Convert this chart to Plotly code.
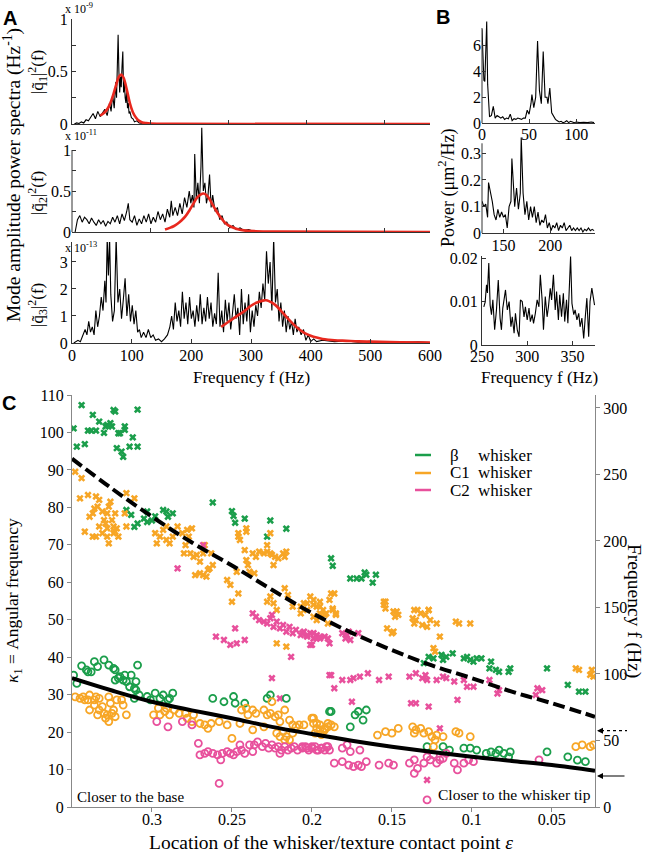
import plotly.graph_objects as go

W, H = 646, 852
SERIF = "Liberation Serif"
SANS = "Liberation Sans"
GREEN = "#1b9e4b"
ORANGE = "#f7a626"
PINK = "#e8509c"
RED = "#e8281e"

# ---------------- Panel A data (mode amplitude spectra) ----------------
a1_f = [3,6,9,12,15,18,21,24,27,30,33,36,39,42,45,48,50,52,54,56,57,58,59,60,61,62,63,64,65,66,
        67,68,69,70,71,72,73,74,76,78,80,83,86,90,95,100,458]
a1_v = [0,0.01,0.005,0.02,0.01,0.04,0.03,0.06,0.1,0.05,0.12,0.07,0.1,0.14,0.08,0.2,0.12,0.28,0.15,0.4,
        0.25,0.6,0.85,0.5,0.3,0.45,0.35,0.55,0.69,0.3,0.4,0.25,0.2,0.33,0.15,0.2,0.1,0.12,0.06,0.05,
        0.02,0.03,0.01,0.005,0,0,0]
a1_fit_f = [36,40,44,48,52,56,60,63,66,70,74,78,82,86,90,95,100,110,130,458]
a1_fit_v = [0.08,0.1,0.13,0.18,0.26,0.36,0.45,0.47,0.44,0.33,0.2,0.11,0.06,0.03,0.015,0.008,0.004,0.002,0.001,0]

a2_f = [4,7,10,13,16,19,22,25,28,31,34,37,40,43,46,49,52,55,58,61,64,67,70,72,74,77,80,83,86,89,
        92,95,98,101,104,107,110,113,116,119,122,125,127,129,132,135,138,141,144,147,150,152,154,156,157,159,161,163,165,166,
        168,170,172,174,176,178,180,183,186,189,192,195,198,202,206,210,215,220,226,232,240,458]
a2_v = [0.0,0.15,0.2,0.12,0.18,0.15,0.1,0.17,0.12,0.08,0.15,0.1,0.14,0.07,0.13,0.1,0.18,0.12,0.2,0.1,
        0.22,0.14,0.25,0.35,0.15,0.12,0.2,0.08,0.16,0.1,0.2,0.12,0.22,0.1,0.18,0.12,0.25,0.15,0.22,0.12,
        0.28,0.18,0.38,0.2,0.3,0.2,0.35,0.22,0.42,0.3,0.5,0.35,0.45,0.3,0.95,0.4,0.6,0.35,0.8,1.27,
        0.5,0.6,0.35,0.45,0.7,0.3,0.45,0.25,0.3,0.15,0.2,0.1,0.12,0.05,0.08,0.03,0.05,0.02,0.03,0.01,0,0]
a2_fit_f = [119,125,130,135,140,145,150,155,160,165,168,172,176,180,185,190,195,200,210,220,235,260,458]
a2_fit_v = [0.03,0.05,0.07,0.1,0.14,0.19,0.26,0.34,0.42,0.46,0.47,0.45,0.4,0.33,0.25,0.18,0.12,0.08,0.04,0.02,0.01,0.005,0]

a3_f = [3,6,10,14,18,22,25,28,31,34,37,40,43,46,49,52,55,57,59,61,63,65,68,71,74,77,80,83,86,89,
        92,95,98,101,104,107,110,113,116,120,124,128,132,136,140,145,150,155,160,164,167,170,173,176,179,182,185,188,191,194,
        197,200,203,206,209,212,215,218,221,224,227,230,233,236,239,242,245,248,251,254,257,260,263,266,269,272,275,278,281,284,
        287,290,293,296,299,302,305,308,311,314,317,320,323,326,329,332,335,338,341,344,347,350,353,356,359,362,365,368,371,374,
        377,380,384,388,392,396,400,405,410,420,440,460,480,500,520,540,560,580,600]
a3_v = [0,0.05,0.1,0.05,0.3,0.5,0.3,0.8,0.4,0.6,0.3,1.2,0.6,1.0,1.7,1.2,2.3,1.5,3.9,2.5,
        3.9,1.8,0.8,1.2,3.9,1.5,2.0,0.9,1.6,2.4,1.0,1.8,0.8,1.4,0.7,1.2,0.4,0.5,0.2,0.4,
        0.2,0.5,0.2,0.3,0.1,0.15,0.05,0.15,0.3,0.6,1.0,0.5,1.5,0.8,1.2,0.6,1.9,0.9,1.5,0.7,
        1.7,0.9,1.2,0.6,1.4,0.8,1.8,0.7,1.3,0.8,1.7,0.9,1.5,0.6,1.1,0.7,2.6,0.6,1.2,0.4,
        1.6,0.8,1.5,0.5,1.1,1.8,0.9,1.3,0.3,2.0,0.7,1.5,0.8,1.8,0.4,1.2,0.6,1.4,1.0,1.9,
        1.3,2.2,1.6,3.4,2.2,3.0,1.2,3.9,1.5,2.0,0.8,1.5,0.6,1.2,0.4,1.0,0.5,0.8,0.3,0.9,
        0.4,0.6,0.3,0.5,0.1,0.3,0.05,0.15,0.05,0.1,0.05,0.08,0.03,0.06,0.02,0.05,0.03,0.04,0.02]
a3_fit_f = [250,260,270,280,290,300,310,320,325,330,340,350,360,370,380,390,400,410,420,430,440,460,480,500,550,600]
a3_fit_v = [0.6,0.75,0.9,1.05,1.2,1.38,1.5,1.57,1.58,1.55,1.42,1.2,0.95,0.72,0.52,0.37,0.27,0.2,0.15,0.12,0.1,0.08,0.06,0.05,0.03,0.02]

# ---------------- Panel B data (power spectra) ----------------
b1_f = [0,1,2,3,4,5,6,7,8,10,12,14,16,18,20,22,24,26,28,30,32,34,36,38,40,42,44,46,48,50,
        52,53,55,57,59,61,63,65,67,69,70,72,74,76,78,80,82,84,86,88,90,92,94,96,98,100,104,108,112,116,119]
b1_v = [7.2,5.0,3.3,3.2,5.5,7.8,3.0,1.5,0.5,0.6,1.3,0.4,0.6,0.5,0.4,0.5,0.3,0.4,0.35,0.7,
        0.2,0.35,0.3,0.4,0.35,0.3,0.4,0.4,1.0,0.7,1.5,2.2,1.2,2.0,6.3,2.5,1.5,5.5,2.0,2.0,
        1.5,2.7,0.8,0.5,0.3,0.2,0.1,0.15,0.05,0.1,0.2,0.05,0.15,0.1,0.05,0.1,0.05,0.08,0.05,0.1,0.05]
b2_f = [127,129,131,133,134,136,138,140,142,144,146,148,150,152,154,156,158,159,161,162,
        164,166,168,169,171,173,175,177,179,181,183,185,187,189,191,193,195,197,199,201,
        203,205,207,209,211,213,215,217,219,221,223,225,227,229,231,233,235,237,239,241,243,245,247]
b2_v = [0.12,0.1,0.11,0.06,0.19,0.16,0.12,0.07,0.05,0.09,0.06,0.08,0.06,0.07,0.02,0.1,0.12,0.28,0.12,0.1,
        0.17,0.09,0.15,0.36,0.15,0.07,0.12,0.05,0.1,0.06,0.1,0.04,0.08,0.03,0.05,0.04,0.07,0.02,0.04,0.01,
        0.03,0.02,0.04,0.01,0.03,0.02,0.04,0.01,0.02,0.03,0.01,0.02,0.01,0.02,0.01,0.02,0.005,0.015,0.01,0.02,
        0.01,0.015,0.01]
# values in units of 0.001 um^2/Hz
b3_f = [252,253.5,255,256,257.5,259,260.5,262,264,266,268,270,271.5,273,276,278,280,282,283.5,285.5,
        287,289,291,292.5,294.5,296.5,298,300,302,303.5,305.5,307,309,311,313,314.5,316.5,318,320,322,
        323.5,325.5,327,329,331,332.5,334.5,336,338,340,341.5,343.5,345,348,349.5,351.5,353,355,357,358.5,
        360.5,362.5,364,366,368,369.5,371.5,373,374.5]
b3_v = [8.8,9.9,13.9,12.0,18.9,9.2,7.0,10.4,3.5,8.1,15.0,6.2,3.5,8.5,12.7,8.1,10.0,4.2,6.5,2.7,
        7.3,3.5,1.9,10.4,10.0,6.5,8.8,5.8,8.5,5.4,7.0,5.0,7.3,10.4,8.8,16.2,10.4,3.5,11.2,6.5,
        8.8,13.1,10.4,16.2,8.1,12.3,5.8,11.6,6.5,11.9,5.4,10.4,5.0,20.4,9.6,7.0,8.1,5.8,7.3,4.2,
        6.2,1.5,5.8,10.8,1.9,10.0,13.1,11.2,9.2]

# ---------------- Panel C data ----------------
gx_e = [0.349,0.344,0.347,0.342,0.340,0.337,0.338,0.335,0.333,0.330,0.329,0.328,0.326,0.325,0.324,0.323,0.322,0.321,0.319,0.318,
        0.317,0.317,0.320,0.312,0.314,0.309,0.309,0.316,0.313,0.311,0.309,0.303,0.303,0.305,0.300,0.298,0.293,0.291,0.290,0.287,
        0.262,0.250,0.249,0.248,0.242,0.228,0.226,0.216,0.188,0.187,0.176,0.172,0.169,0.167,0.166,0.162,0.160,0.130,0.127,0.124,
        0.119,0.118,0.116,0.112,0.105,0.103,0.101,0.099,0.097,0.094,0.088,0.089,0.085,0.083,0.076,0.077,0.053,0.040,0.033,0.029]
gx_k = [101.1,107.3,96.2,96.9,100.5,104.7,100.5,100.5,102.9,99.9,101.6,102.0,102.5,101.6,106.0,105.6,95.8,99.8,94.9,93.5,
        101.6,100.7,99.8,98.7,96.2,96.2,106.1,79.3,78.0,74.8,75.7,76.1,78.9,77.0,76.5,77.6,79.3,78.9,77.5,78.4,
        81.3,79.0,77.7,75.9,77.0,72.2,76.5,74.3,66.4,64.4,61.0,61.0,61.0,62.6,62.0,59.9,62.0,38.4,40.1,39.7,
        40.6,39.3,40.1,41.0,39.7,40.1,39.3,38.8,39.7,39.7,38.8,37.0,36.6,36.1,37.0,36.1,37.0,32.6,30.8,30.8]
go_e = [0.349,0.347,0.344,0.341,0.340,0.338,0.336,0.334,0.330,0.327,0.324,0.323,0.321,0.323,0.320,0.318,0.317,0.316,0.314,0.313,
        0.311,0.310,0.309,0.310,0.311,0.308,0.303,0.301,0.298,0.295,0.293,0.290,0.289,0.287,0.262,0.255,0.249,0.248,0.242,0.228,
        0.226,0.216,0.189,0.188,0.173,0.171,0.166,0.168,0.176,0.128,0.118,0.114,0.105,0.101,0.097,0.091,0.088,0.085,0.083,0.080,
        0.076,0.077,0.053,0.040,0.034,0.029]
go_k = [35.2,33.0,37.7,36.6,36.1,36.1,38.8,37.5,39.3,37.9,37.0,36.6,34.4,33.9,34.8,33.9,35.2,33.5,32.1,35.2,
        31.7,33.5,37.9,31.2,29.0,29.9,29.5,28.6,30.4,29.0,29.9,28.6,29.0,30.4,29.0,28.1,29.5,27.7,27.7,29.0,
        29.9,29.0,25.5,25.5,24.6,25.5,25.9,23.2,21.4,16.1,16.1,15.2,15.7,15.7,15.2,14.3,14.7,14.3,15.2,14.3,
        14.7,13.4,14.7,13.4,12.5,12.1]

ox_e = [0.348,0.344,0.345,0.340,0.342,0.339,0.336,0.337,0.335,0.333,0.334,0.331,0.330,0.333,0.335,0.337,0.331,0.329,0.328,0.327,
        0.326,0.325,0.324,0.323,0.328,0.327,0.324,0.322,0.321,0.323,0.328,0.316,0.317,0.316,0.311,0.298,0.295,0.293,0.291,0.289,
        0.287,0.297,0.291,0.284,0.281,0.278,0.275,0.277,0.279,0.280,0.276,0.274,0.272,0.270,0.268,0.267,0.273,0.270,0.268,0.266,
        0.265,0.264,0.263,0.262,0.253,0.251,0.250,0.246,0.247,0.246,0.246,0.245,0.241,0.241,0.242,0.241,0.240,0.239,0.236,0.237,
        0.235,0.233,0.230,0.228,0.228,0.226,0.225,0.226,0.224,0.223,0.221,0.218,0.217,0.216,0.217,0.215,0.224,0.222,0.228,0.226,
        0.222,0.216,0.212,0.207,0.203,0.199,0.197,0.195,0.192,0.190,
        0.205,0.201,0.199,0.197,0.195,0.193,0.189,0.188,0.186,0.187,0.185,0.155,0.154,0.147,0.148,0.136,0.134,0.127,
        0.207,0.203,0.199,0.195,0.191,0.187,0.185,0.155,0.154,0.149,0.146,0.153,0.150,0.149,0.137,0.135,0.136,0.132,0.129,0.131,
        0.127,0.126,0.128,0.122,0.120,0.124,0.123,0.110,0.108,0.101,0.035,0.033,0.025,0.024,0.026]
ox_k = [89.5,87.8,82.4,83.3,73.5,77.5,79.7,78.4,82.9,82.0,80.2,78.9,76.6,74.9,72.2,72.2,73.1,75.7,78.4,80.2,
        81.5,76.6,74.9,78.4,72.2,70.4,73.1,74.4,72.2,73.5,74.4,83.8,78.4,74.9,82.4,73.1,72.2,74.0,71.3,70.4,
        72.2,70.4,74.9,74.9,73.1,74.0,74.4,72.2,69.9,67.7,67.7,66.8,67.3,65.5,67.7,69.9,61.9,62.4,61.9,61.5,
        63.3,63.7,67.7,64.6,60.6,59.3,54.8,57.0,62.8,73.1,72.2,71.3,74.4,73.5,68.6,65.9,64.6,62.8,62.4,67.7,
        66.8,68.2,67.7,69.9,68.2,67.7,67.3,73.1,64.6,66.8,66.4,67.7,66.8,68.2,58.4,56.6,54.4,52.6,54.8,56.2,
        43.7,42.8,53.5,51.7,52.6,50.8,49.9,53.5,51.3,49.0,
        54.4,56.2,55.3,53.5,51.7,52.6,55.3,57.0,57.0,52.6,51.7,54.8,53.0,52.2,50.8,52.6,52.6,52.6,
        53.5,54.4,54.0,54.8,51.7,53.0,51.3,54.0,54.8,52.2,51.3,47.7,46.4,46.8,50.4,49.9,49.0,51.7,51.3,48.6,
        52.6,49.9,48.1,49.0,45.5,42.4,41.5,49.5,49.0,49.0,37.0,36.6,36.6,34.8,35.3]
oo_e = [0.348,0.345,0.343,0.342,0.340,0.339,0.336,0.339,0.336,0.335,0.333,0.331,0.330,0.329,0.327,0.328,0.325,0.324,0.323,0.326,
        0.327,0.333,0.334,0.316,0.318,0.322,0.319,0.299,0.296,0.295,0.292,0.291,0.289,0.286,0.283,0.279,0.278,0.275,0.274,0.270,
        0.267,0.265,0.263,0.258,0.253,0.250,0.245,0.244,0.241,0.240,0.237,0.235,0.230,0.228,0.226,0.225,0.223,0.221,0.220,0.217,
        0.214,0.212,0.210,0.208,0.222,0.220,0.218,0.216,0.214,0.217,0.212,0.237,0.230,0.200,0.199,0.197,0.195,0.192,0.190,0.198,
        0.194,0.205,0.199,0.197,0.195,0.192,0.190,0.188,0.186,0.193,0.159,0.154,0.150,0.146,0.137,0.135,0.132,0.136,0.130,0.127,
        0.125,0.123,0.122,0.124,0.118,0.110,0.108,0.101,0.035,0.031,0.026,0.024]
oo_k = [29.4,29.0,29.4,28.6,28.6,29.9,28.6,25.9,27.2,29.4,29.0,26.8,25.0,23.7,22.8,24.6,25.0,25.9,24.1,27.7,
        29.4,25.9,24.6,24.6,27.2,28.6,28.6,24.6,26.4,24.6,25.5,26.4,24.6,25.9,25.0,25.0,23.7,22.8,24.6,22.3,
        21.9,21.0,22.3,22.8,21.9,18.3,22.3,25.9,26.4,24.6,25.9,25.0,25.9,24.6,25.0,28.1,24.1,24.6,22.8,25.9,
        23.2,21.9,21.4,21.9,19.7,18.8,20.1,18.8,17.9,17.9,19.7,20.6,21.4,23.7,22.3,21.0,21.9,20.6,21.4,19.7,
        19.3,21.9,23.7,22.3,20.6,21.0,22.3,21.9,21.4,20.1,19.2,20.1,19.7,21.0,21.4,20.6,21.0,19.7,19.7,20.1,
        18.8,17.9,19.2,16.1,18.8,20.1,19.7,18.8,16.1,16.6,16.1,16.6]

px_e = [0.284,0.268,0.260,0.255,0.251,0.248,0.247,0.242,0.237,0.235,0.233,0.230,0.228,0.226,0.225,0.224,0.222,0.220,0.218,0.216,
        0.214,0.212,0.210,0.207,0.205,0.203,0.201,0.199,0.197,0.195,0.192,0.190,0.201,0.213,0.225,0.220,0.189,0.206,0.203,0.199,
        0.197,0.195,0.200,0.189,0.181,0.179,0.178,0.177,0.176,0.171,0.188,0.181,0.186,0.176,0.174,0.170,0.165,0.158,0.152,0.139,
        0.135,0.131,0.129,0.128,0.122,0.118,0.116,0.111,0.105,0.103,0.099,0.089,0.083,0.084,0.059,0.056,0.060,0.175,0.138,0.135,
        0.127,0.109,0.120,0.128]
px_k = [63.7,69.9,45.5,44.6,43.3,47.7,43.7,44.6,51.7,50.8,49.9,49.5,49.0,50.4,51.3,48.1,49.5,47.7,48.6,46.8,
        48.1,46.4,47.3,45.9,46.8,45.5,46.4,45.0,45.9,45.0,45.5,45.0,43.3,40.1,34.4,29.0,35.2,46.4,45.9,46.4,
        45.0,45.5,43.3,43.7,46.4,45.0,45.9,46.8,44.6,46.4,35.2,33.9,31.7,33.9,34.4,34.8,35.7,33.9,34.8,34.8,
        35.7,34.4,35.2,33.9,33.9,34.8,34.4,33.5,33.9,32.1,32.1,33.9,31.2,30.3,31.7,31.2,29.9,28.1,27.7,27.7,
        26.8,28.6,21.0,7.2]
po_e = [0.297,0.290,0.281,0.275,0.271,0.270,0.267,0.265,0.262,0.259,0.256,0.253,0.251,0.249,0.257,0.247,0.245,0.244,0.242,0.258,
        0.239,0.236,0.234,0.231,0.229,0.227,0.225,0.223,0.221,0.219,0.217,0.215,0.213,0.211,0.209,0.206,0.204,0.202,0.200,0.198,
        0.196,0.194,0.192,0.190,0.237,0.220,0.206,0.203,0.200,0.197,0.194,0.191,0.189,0.181,0.178,0.176,0.170,0.186,0.181,0.177,
        0.174,0.171,0.169,0.166,0.158,0.152,0.149,0.139,0.136,0.134,0.136,0.130,0.128,0.126,0.124,0.122,0.120,0.118,0.116,0.111,
        0.109,0.105,0.102,0.099,0.058,0.128]
po_k = [22.8,21.4,22.8,21.9,17.0,13.9,14.3,14.8,14.3,13.9,14.3,14.8,14.3,13.9,12.6,14.8,16.6,15.2,14.3,6.3,
        16.6,16.6,17.4,16.1,17.0,15.7,16.6,15.7,16.1,15.2,16.1,15.2,15.7,16.1,15.2,15.7,16.1,15.2,15.7,16.1,
        15.2,15.7,15.2,16.1,14.8,14.3,16.1,15.7,16.1,15.2,15.7,16.1,15.2,15.7,16.6,14.8,15.2,11.7,12.1,11.2,
        10.8,11.2,10.8,12.1,11.2,11.7,11.2,11.7,12.6,10.3,9.0,11.7,13.4,12.6,13.9,11.7,12.6,13.0,14.3,11.7,
        9.9,11.7,12.6,12.1,12.6,1.9]

curve_eps = [0.35,0.325,0.3,0.275,0.25,0.225,0.2,0.175,0.15,0.125,0.1,0.075,0.05,0.023]
mode2_k = [93.0,85.0,77.5,70.6,64.5,58.0,51.8,46.5,41.9,37.8,34.4,30.8,27.7,24.1]
mode1_k = [34.4,31.1,28.1,25.8,23.7,21.4,19.5,17.7,16.1,14.7,13.4,12.3,11.2,9.7]

arrow_freqs_hz = [57.4, 23.3]  # dotted, solid

legend_labels = ["β", "C1", "C2"]
legend_colors = [GREEN, ORANGE, PINK]

a_tick_f = [0, 100, 200, 300, 400, 500, 600]
a12_ticks = [100, 200, 300, 400]
c_x_ticks = [0.3, 0.25, 0.2, 0.15, 0.1, 0.05]
c_x_text = ["0.3", "0.25", "0.2", "0.15", "0.1", "0.05"]
c_y_ticks = [0, 10, 20, 30, 40, 50, 60, 70, 80, 90, 100, 110]
c_y2_ticks = [0, 50, 100, 150, 200, 250, 300]


def pxx(x):
    return x / W


def pyy(y):
    return 1 - y / H


fig = go.Figure()
blk = dict(color="black", width=1.1)
red = dict(color=RED, width=2.6, shape="spline")

fig.add_trace(go.Scatter(x=a1_f, y=a1_v, mode="lines", line=blk, xaxis="x", yaxis="y"))
fig.add_trace(go.Scatter(x=a1_fit_f, y=a1_fit_v, mode="lines", line=red, xaxis="x", yaxis="y"))
fig.add_trace(go.Scatter(x=a2_f, y=a2_v, mode="lines", line=blk, xaxis="x2", yaxis="y2"))
fig.add_trace(go.Scatter(x=a2_fit_f, y=a2_fit_v, mode="lines", line=red, xaxis="x2", yaxis="y2"))
fig.add_trace(go.Scatter(x=a3_f, y=a3_v, mode="lines", line=blk, xaxis="x3", yaxis="y3"))
fig.add_trace(go.Scatter(x=a3_fit_f, y=a3_fit_v, mode="lines", line=red, xaxis="x3", yaxis="y3"))
fig.add_trace(go.Scatter(x=b1_f, y=b1_v, mode="lines", line=blk, xaxis="x4", yaxis="y4"))
fig.add_trace(go.Scatter(x=b2_f, y=b2_v, mode="lines", line=blk, xaxis="x5", yaxis="y5"))
fig.add_trace(go.Scatter(x=b3_f, y=b3_v, mode="lines", line=blk, xaxis="x6", yaxis="y6"))


def xmark(color):
    return dict(symbol="x", size=6.5, color=color, line=dict(width=0))


def omark(color):
    return dict(symbol="circle-open", size=7, color=color, line=dict(width=1.8, color=color))


for e, k, m in [(gx_e, gx_k, xmark(GREEN)), (ox_e, ox_k, xmark(ORANGE)), (px_e, px_k, xmark(PINK)),
                (go_e, go_k, omark(GREEN)), (oo_e, oo_k, omark(ORANGE)), (po_e, po_k, omark(PINK))]:
    fig.add_trace(go.Scatter(x=e, y=k, mode="markers", marker=m, xaxis="x7", yaxis="y7"))

fig.add_trace(go.Scatter(x=curve_eps, y=mode2_k, mode="lines",
                         line=dict(color="black", width=4, dash="12px,5px", shape="spline"),
                         xaxis="x7", yaxis="y7"))
fig.add_trace(go.Scatter(x=curve_eps, y=mode1_k, mode="lines",
                         line=dict(color="black", width=4, shape="spline"),
                         xaxis="x7", yaxis="y7"))
fig.add_trace(go.Scatter(x=[], y=[], mode="markers", xaxis="x7", yaxis="y8"))


def ax(**kw):
    base = dict(showgrid=False, zeroline=False, showline=True, linecolor="#333", linewidth=1,
                tickfont=dict(family=SERIF, size=16, color="black"), ticks="inside", ticklen=4,
                tickcolor="#333", fixedrange=True, automargin=False)
    base.update(kw)
    return base


AX = [pxx(72), pxx(430)]
BX = [pxx(482), pxx(595)]
CX = [pxx(72), pxx(595)]
q_ticks = [0, 0.25, 0.5, 0.75, 1]
q_text = ["0", "", "0.5", "", "1"]

layout = dict(
    width=W, height=H, margin=dict(l=0, r=0, t=0, b=0, pad=0, autoexpand=False), autosize=False,
    paper_bgcolor="white", plot_bgcolor="white", showlegend=False,
    xaxis=ax(domain=AX, range=[0, 458], tickvals=a12_ticks, showticklabels=False, anchor="y"),
    yaxis=ax(domain=[pyy(124), pyy(19)], range=[0, 1], tickvals=q_ticks, ticktext=q_text, anchor="x"),
    xaxis2=ax(domain=AX, range=[0, 458], tickvals=a12_ticks, showticklabels=False, anchor="y2"),
    yaxis2=ax(domain=[pyy(232), pyy(125.4)], range=[0, 1.3], tickvals=q_ticks, ticktext=q_text,
              showline=False, anchor="x2"),
    xaxis3=ax(domain=AX, range=[0, 600], tickvals=a_tick_f, anchor="y3", ticklabelstandoff=-2),
    yaxis3=ax(domain=[pyy(343), pyy(242)], range=[0, 3.74], tickvals=[0, 1, 2, 3], anchor="x3"),
    xaxis4=ax(domain=BX, range=[0, 120], tickvals=[0, 50, 100], anchor="y4", ticklabelstandoff=-4),
    yaxis4=ax(domain=[pyy(123.3), pyy(20.2)], range=[0, 7.9], tickvals=[0, 2, 4, 6], showline=False, anchor="x4"),
    xaxis5=ax(domain=BX, range=[127, 248], tickvals=[150, 200], anchor="y5", ticklabelstandoff=-3),
    yaxis5=ax(domain=[pyy(233.3), pyy(137.3)], range=[0, 0.36], tickvals=[0, 0.1, 0.2, 0.3],
              ticktext=["0", "0.1", "0.2", "0.3"], showline=False, anchor="x5"),
    xaxis6=ax(domain=BX, range=[250, 375], tickvals=[250, 300, 350], anchor="y6", ticklabelstandoff=-3),
    yaxis6=ax(domain=[pyy(345), pyy(256.1)], range=[0, 20.5], tickvals=[0, 10, 20],
              ticktext=["0", "0.01", "0.02"], anchor="x6"),
    xaxis7=ax(domain=CX, range=[0.35, 0.023], tickvals=c_x_ticks, ticktext=c_x_text, ticks="outside",
              linecolor="#888", tickcolor="#888", anchor="y7", ticklabelstandoff=-6),
    yaxis7=ax(domain=[pyy(807), pyy(395)], range=[0, 110], tickvals=c_y_ticks, ticks="outside",
              linecolor="#888", tickcolor="#888", anchor="x7"),
    yaxis8=ax(range=[0, 309.7], tickvals=c_y2_ticks, ticks="outside", overlaying="y7", side="right",
              linecolor="#888", tickcolor="#888", anchor="x7"),
)

shapes = [
    dict(type="line", xref="x2 domain", yref="y2", x0=0, x1=0, y0=0, y1=1, line=dict(color="#333", width=1)),
    dict(type="line", xref="x4 domain", yref="y4", x0=0, x1=0, y0=0, y1=7.3, line=dict(color="#333", width=1)),
    dict(type="line", xref="x5 domain", yref="y5", x0=0, x1=0, y0=0, y1=0.3375, line=dict(color="#333", width=1)),
    dict(type="line", xref="paper", yref="y8", x0=pxx(601), x1=pxx(627), y0=arrow_freqs_hz[0], y1=arrow_freqs_hz[0],
         line=dict(color="black", width=1.2, dash="dot")),
]

ann = []


def txt(x, y, s, size=15, family=SERIF, xanchor="center", **kw):
    d = dict(x=x, y=y, xref="paper", yref="paper", text=s, showarrow=False,
             xanchor=xanchor, yanchor="middle",
             font=dict(family=family, size=size, color="black"))
    d.update(kw)
    return d


ann += [
    txt(pxx(10), pyy(18), "<b>A</b>", size=20, family=SANS),
    txt(pxx(443), pyy(17), "<b>B</b>", size=20, family=SANS),
    txt(pxx(9), pyy(403), "<b>C</b>", size=20, family=SANS),
    txt(pxx(63), pyy(8), "x 10<sup>-9</sup>", size=12, xanchor="left"),
    txt(pxx(63), pyy(136), "x 10<sup>-11</sup>", size=12, xanchor="left"),
    txt(pxx(63), pyy(247), "x 10<sup>-13</sup>", size=12, xanchor="left"),
    txt(pxx(37), pyy(72), "|q\u0303<sub>1</sub>|<sup>2</sup>(f)", size=17, textangle=-90),
    txt(pxx(37), pyy(193), "|q\u0303<sub>2</sub>|<sup>2</sup>(f)", size=17, textangle=-90),
    txt(pxx(37), pyy(305), "|q\u0303<sub>3</sub>|<sup>2</sup>(f)", size=17, textangle=-90),
    txt(pxx(12), pyy(175), "Mode amplitude power spectra (Hz<sup>-1</sup>)", size=19.5, textangle=-90),
    txt(pxx(251), pyy(377), "Frequency f (Hz)", size=17),
    txt(pxx(447), pyy(188), "Power (\u03bcm<sup>2</sup>/Hz)", size=18, textangle=-90),
    txt(pxx(539), pyy(377), "Frequency f (Hz)", size=17),
    txt(pxx(13), pyy(601), "<i>\u03ba</i><sub>1</sub> = Angular frequency", size=17.5, textangle=-90),
    txt(pxx(634), pyy(611), "Frequency f (Hz)", size=19.5, textangle=90),
    txt(pxx(331), pyy(842), "Location of the whisker/texture contact point <i>\u03b5</i>", size=19.5),
    txt(pxx(75), pyy(797), "Closer to the base", size=15, xanchor="left"),
    txt(pxx(593), pyy(794), "Closer to the whisker tip", size=15.5, xanchor="right"),
]

leg_y = [455, 473, 490]
for lab, col, yy in zip(legend_labels, legend_colors, leg_y):
    shapes.append(dict(type="line", xref="paper", yref="paper", x0=pxx(415), x1=pxx(431),
                       y0=pyy(yy), y1=pyy(yy), line=dict(color=col, width=2.5)))
    ann.append(txt(pxx(448), pyy(yy), lab, size=17, xanchor="left"))
    ann.append(txt(pxx(476), pyy(yy), "whisker", size=17, xanchor="left"))

ann.append(dict(x=pxx(597), y=arrow_freqs_hz[0], xref="paper", yref="y8", text="", showarrow=True,
                ax=7, ay=0, arrowhead=2, arrowsize=1, arrowwidth=1.2, arrowcolor="black"))
ann.append(dict(x=pxx(597), y=arrow_freqs_hz[1], xref="paper", yref="y8", text="", showarrow=True,
                ax=29, ay=0, arrowhead=2, arrowsize=1, arrowwidth=1.2, arrowcolor="black"))

layout["shapes"] = shapes
layout["annotations"] = ann
fig.update_layout(**layout)
fig.write_html("out.html", config={"displayModeBar": False},
               post_script="document.body.style.margin='0';document.body.style.padding='0';"
                           "document.documentElement.style.overflow='hidden';")
